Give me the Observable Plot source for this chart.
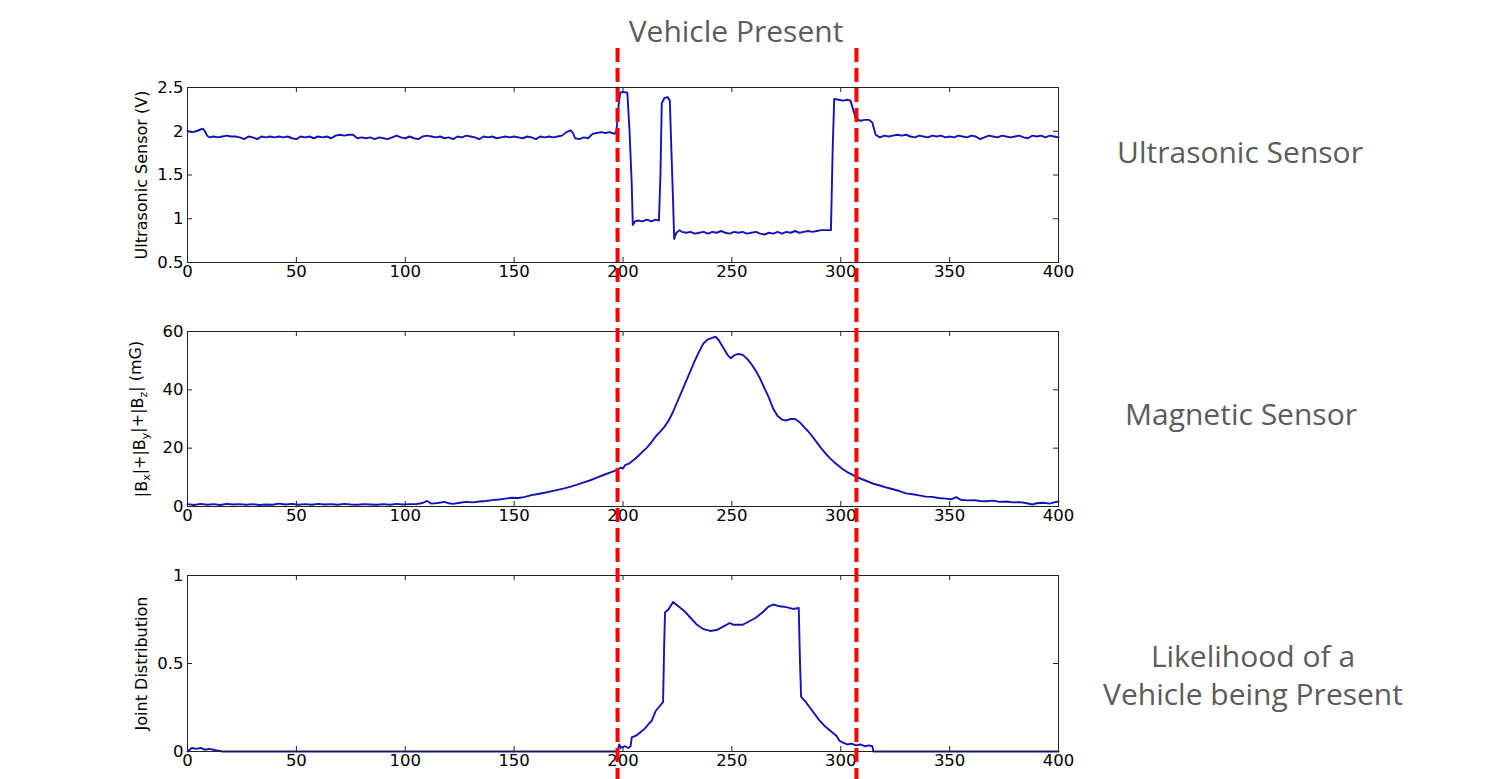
<!DOCTYPE html>
<html>
<head>
<meta charset="utf-8">
<script src="https://cdn.jsdelivr.net/npm/d3@7"></script>
<script src="https://cdn.jsdelivr.net/npm/@observablehq/plot@0.6"></script>
<style>
  html, body { margin: 0; padding: 0; background: #fff; }
  #page { position: relative; width: 1512px; height: 779px; overflow: hidden; background: #fff; }
  #page > svg, #page > div { position: absolute; }
  .side { font-family: "Open Sans", sans-serif; font-size: 30px; color: #5c5c5c; text-align: center; line-height: 38.6px; white-space: nowrap; }
</style>
</head>
<body>
<div id="page"></div>
<script>
// ---------- data ----------
const xTicks = [0, 50, 100, 150, 200, 250, 300, 350, 400];
const usTicks = [0.5, 1, 1.5, 2, 2.5];
const magTicks = [0, 20, 40, 60];
const jointTicks = [0, 0.5, 1];
const presenceBounds = [197.5, 307.2];

const usX = [0,2,4,6,7,8,9,10,12,14,16,18,20,22,24,26,28,30,32,34,36,38,40,42,44,46,48,50,52,54,56,58,60,62,64,66,68,70,72,74,76,78,80,82,84,86,88,90,92,94,96,98,100,102,104,106,108,110,112,114,116,118,120,122,124,126,128,130,132,134,136,138,140,142,144,146,148,150,152,154,156,158,160,162,164,166,168,170,172,174,176,177,178,180,182,184,186,188,190,192,194,196,197,198,198.7,200,202,203,204,204.5,205.5,207,209,211,213,215,216.5,217.2,217.8,219,220.5,221.5,222.2,223,223.5,224.5,226,227,229,231,233,235,237,239,241,243,245,247,249,251,253,255,257,259,261,263,265,267,269,271,273,275,277,279,281,283,285,287,289,291,293,295.5,296.3,297,299,301,303,304.5,306,307,309,311,313,314.5,316,318,320,322,324,326,328,330,332,334,336,338,340,342,344,346,348,350,352,354,356,358,360,362,364,366,368,370,372,374,376,378,380,382,384,386,388,390,392,394,396,398,400];
const usV = [2.0,1.99,2.0,2.02,2.03,2.0,1.95,1.93,1.94,1.93,1.94,1.95,1.94,1.94,1.93,1.91,1.94,1.93,1.91,1.94,1.93,1.94,1.93,1.94,1.93,1.94,1.92,1.91,1.94,1.93,1.94,1.92,1.94,1.93,1.94,1.92,1.95,1.96,1.95,1.96,1.96,1.92,1.93,1.92,1.93,1.91,1.93,1.92,1.91,1.93,1.95,1.93,1.92,1.94,1.92,1.91,1.94,1.95,1.94,1.93,1.94,1.92,1.93,1.91,1.94,1.93,1.95,1.94,1.93,1.91,1.94,1.93,1.94,1.92,1.93,1.94,1.93,1.94,1.93,1.92,1.94,1.93,1.91,1.94,1.93,1.94,1.93,1.94,1.95,1.99,2.01,1.98,1.92,1.91,1.93,1.92,1.97,1.98,1.99,1.98,1.99,1.97,2.0,2.3,2.44,2.45,2.44,2.0,1.4,0.93,0.97,0.98,0.97,0.99,0.97,0.99,0.98,1.5,2.32,2.38,2.39,2.35,1.8,1.2,0.77,0.84,0.87,0.85,0.84,0.85,0.83,0.84,0.85,0.83,0.85,0.84,0.86,0.84,0.83,0.85,0.84,0.85,0.83,0.84,0.85,0.83,0.82,0.84,0.83,0.85,0.83,0.85,0.84,0.86,0.84,0.85,0.86,0.85,0.86,0.87,0.87,0.87,1.8,2.37,2.36,2.35,2.36,2.35,2.22,2.14,2.12,2.13,2.13,2.1,1.96,1.93,1.95,1.94,1.95,1.96,1.95,1.96,1.94,1.93,1.95,1.94,1.93,1.95,1.94,1.95,1.93,1.94,1.93,1.95,1.94,1.93,1.95,1.94,1.91,1.93,1.95,1.94,1.93,1.95,1.94,1.93,1.94,1.95,1.93,1.92,1.95,1.94,1.95,1.93,1.95,1.94,1.93];

const magX = [0,3,6,9,12,15,18,21,24,27,30,33,36,39,42,45,48,51,54,57,60,63,66,69,72,75,78,81,84,87,90,93,96,99,102,105,108,110,112,115,118,120,122,125,128,131,134,137,140,143,146,149,152,155,158,161,164,167,170,173,176,179,182,185,188,191,194,197,199,200,201,203,205,207,209,211,213,215,217,219,221,223,225,227,229,231,233,235,237,239,241,242.5,244,246,248,249.5,251,253,255,257,259,261,263,265,267,269,271,273,275,277,279,281,283,285,287,289,291,293,295,297,299,301,303,305,307,309,311,313,315,318,321,324,327,330,333,336,339,342,345,348,351,353,355,358,361,364,367,370,373,376,379,382,385,388,390,393,396,398,400];
const magV = [0.8,0.5,0.9,0.6,0.8,0.5,0.9,0.7,0.8,0.6,0.8,0.5,0.7,0.6,1.0,0.7,0.9,0.6,0.8,0.6,0.9,0.7,0.8,0.6,0.9,0.7,0.6,0.8,0.7,0.6,0.8,0.6,0.9,0.7,0.8,0.8,1.2,1.9,1.0,1.2,1.6,1.1,0.9,1.3,1.6,1.4,1.7,1.9,2.2,2.4,2.7,3.0,2.9,3.3,3.9,4.3,4.7,5.2,5.7,6.2,6.8,7.5,8.3,9.0,9.9,10.8,11.6,12.5,13.3,13.0,14.2,14.8,16.0,17.3,18.8,20.2,22.0,24.0,25.6,27.3,29.5,32.5,36.0,39.5,43.0,46.5,50.0,53.2,56.0,57.3,57.8,58.2,57.0,54.5,52.0,50.8,51.8,52.3,52.0,50.6,48.8,46.5,43.8,40.5,37.3,33.5,31.0,29.8,29.5,30.0,30.0,29.0,27.4,25.8,24.0,22.0,20.0,18.2,16.6,15.2,14.0,12.8,11.8,11.0,10.2,9.6,9.0,8.4,7.8,7.2,6.5,5.9,5.3,4.5,4.2,3.8,3.4,3.3,2.9,2.7,2.5,3.2,2.3,2.1,2.2,1.9,1.8,2.0,1.6,1.7,1.4,1.5,1.2,0.7,1.1,1.3,1.0,1.4,1.7];

const jointX = [0,1,2,4,6,8,10,12,14,16,197.5,198.3,199,201,202.5,203.5,204,206,208,210,212,213,215,217,218.4,218.9,219.3,221,223,225,228,231,234,237,240,243,246,249,251,253,255,258,261,264,267,269,272,275,278,280.7,281.3,281.8,284,287,290,293,296,298,299.5,301,303,305,307,309,311,313,314.5,315,400];
const jointV = [0.0,0.01,0.02,0.015,0.02,0.01,0.015,0.01,0.005,0.0,0.0,0.04,0.02,0.03,0.02,0.03,0.08,0.09,0.11,0.13,0.16,0.17,0.23,0.26,0.28,0.6,0.79,0.81,0.85,0.83,0.80,0.76,0.72,0.695,0.685,0.69,0.71,0.73,0.72,0.72,0.72,0.74,0.76,0.79,0.825,0.835,0.825,0.82,0.81,0.815,0.5,0.31,0.28,0.23,0.18,0.14,0.11,0.09,0.06,0.05,0.04,0.045,0.035,0.04,0.03,0.035,0.03,0.0,0.0];

// ---------- layout ----------
const W = 1512, ML = 187, MR = 454;
const FRAME_W = W - ML - MR;
const BLUE = "#1414b4";
const page = document.getElementById("page");
const fmt = d => String(d);

function panel({xs, vs, yDomain, yTicks, label, top, marginTop, frameH, marginBottom}) {
  const data = xs.map((x, i) => ({x, v: vs[i]}));
  const plot = Plot.plot({
    width: W,
    height: marginTop + frameH + marginBottom,
    marginLeft: ML, marginRight: MR, marginTop, marginBottom,
    style: {fontFamily: "DejaVu Sans, sans-serif", fontSize: "16.5px", color: "#000", background: "transparent"},
    x: {domain: [0, 400]},
    y: {domain: yDomain},
    marks: [
      Plot.axisX(xTicks, {tickSize: 0, tickPadding: 3, label: null, tickFormat: fmt}),
      Plot.axisY(yTicks, {tickSize: 0, tickPadding: 4, label: null, tickFormat: fmt}),
      Plot.ruleX(xTicks, {x: d => d, stroke: "#222", strokeWidth: 1, insetTop: frameH - 5}),
      Plot.ruleX(xTicks, {x: d => d, stroke: "#222", strokeWidth: 1, insetBottom: frameH - 5}),
      Plot.ruleY(yTicks, {y: d => d, stroke: "#222", strokeWidth: 1, insetRight: FRAME_W - 5}),
      Plot.ruleY(yTicks, {y: d => d, stroke: "#222", strokeWidth: 1, insetLeft: FRAME_W - 5}),
      Plot.line(data, {x: "x", y: "v", stroke: BLUE, strokeWidth: 1.9}),
      Plot.frame({stroke: "#222", strokeWidth: 1}),
      Plot.text([label], {text: d => d, frameAnchor: "left", rotate: -90, dx: -46, textAnchor: "middle",
        fontSize: 16, fill: "#000"})
    ]
  });
  plot.style.left = "0px";
  plot.style.top = top + "px";
  page.appendChild(plot);
  return plot;
}

panel({xs: usX, vs: usV, yDomain: [0.5, 2.5], yTicks: usTicks, label: "Ultrasonic Sensor (V)",
  top: 60, marginTop: 27, frameH: 175, marginBottom: 30});
const magLabel = "|Bx|+|By|+|Bz| (mG)";
const magPlot = panel({xs: magX, vs: magV, yDomain: [0, 60], yTicks: magTicks, label: magLabel,
  top: 300, marginTop: 31, frameH: 175, marginBottom: 30});
panel({xs: jointX, vs: jointV, yDomain: [0, 1], yTicks: jointTicks, label: "Joint Distribution",
  top: 545, marginTop: 30, frameH: 176, marginBottom: 28});

// subscripts in the magnetic label
{
  const t = d3.select(magPlot).selectAll("text").filter(function () { return this.textContent === magLabel; });
  t.text(null);
  const parts = [["|B", 0], ["x", 1], ["|+|B", 0], ["y", 1], ["|+|B", 0], ["z", 1], ["| (mG)", 0]];
  let prevSub = false;
  for (const [s, sub] of parts) {
    const ts = t.append("tspan").text(s);
    if (sub) ts.attr("dy", "0.35em").attr("font-size", "11px");
    else if (prevSub) ts.attr("dy", "-0.35em");
    prevSub = !!sub;
  }
}

// red dashed presence markers (overlay spanning all panels)
const overlay = Plot.plot({
  width: W, height: 779,
  marginLeft: ML, marginRight: MR, marginTop: 48, marginBottom: 0,
  style: {background: "transparent"},
  x: {domain: [0, 400], axis: null},
  marks: [
    Plot.ruleX(presenceBounds, {x: d => d, stroke: "#ff0000", strokeWidth: 4, strokeDasharray: "14,6"})
  ]
});
overlay.style.left = "0px";
overlay.style.top = "0px";
overlay.style.pointerEvents = "none";
page.appendChild(overlay);

// titles
function addText(html, cx, cy, w) {
  const d = document.createElement("div");
  d.className = "side";
  d.innerHTML = html;
  d.style.width = w + "px";
  d.style.left = (cx - w / 2) + "px";
  page.appendChild(d);
  d.style.top = (cy - d.offsetHeight / 2) + "px";
}
addText("Vehicle Present", 736, 31, 320);
addText("Ultrasonic Sensor", 1240, 152, 360);
addText("Magnetic Sensor", 1241, 414, 360);
addText("Likelihood of a<br>Vehicle being Present", 1253, 675, 420);
</script>
</body>
</html>
